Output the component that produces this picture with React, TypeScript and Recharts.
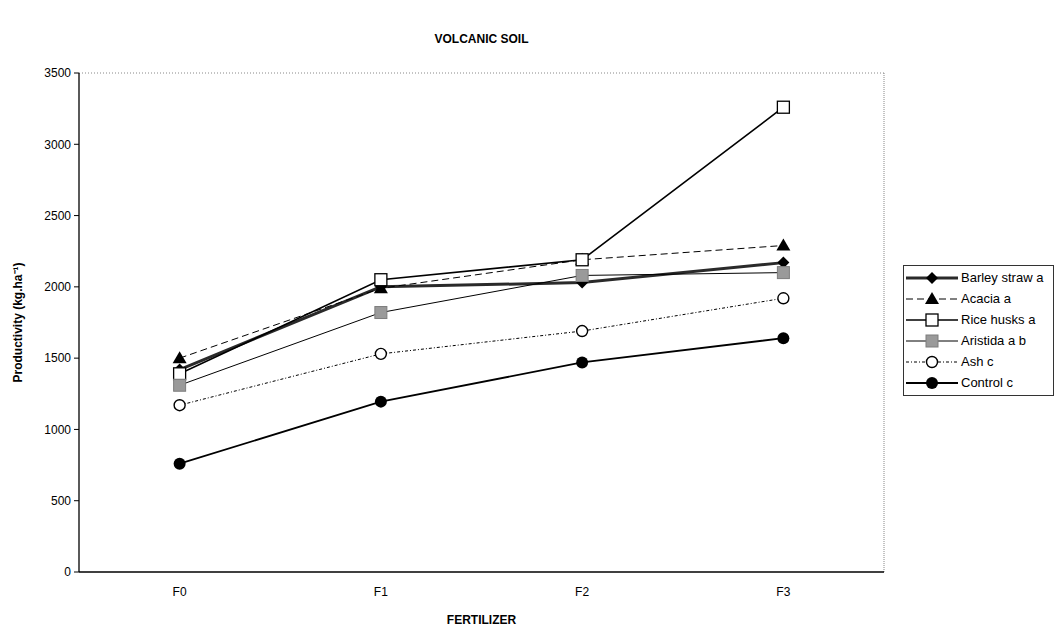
import React from "react";
import {
  LineChart,
  Line,
  XAxis,
  YAxis,
  ReferenceLine,
  Label,
} from "recharts";

const categories = ["F0", "F1", "F2", "F3"];
const barleyStraw = [1420, 2000, 2030, 2170];
const acacia = [1500, 1990, 2190, 2290];
const riceHusks = [1390, 2050, 2190, 3260];
const aristida = [1310, 1820, 2080, 2100];
const ash = [1170, 1530, 1690, 1920];
const control = [760, 1195, 1470, 1640];
const yTicks = [0, 500, 1000, 1500, 2000, 2500, 3000, 3500];
const boundaryTicks = [0.5, 1.5, 2.5, 3.5];

const data = categories.map((label, i) => ({
  x: i,
  label,
  barley: barleyStraw[i],
  acacia: acacia[i],
  rice: riceHusks[i],
  aristida: aristida[i],
  ash: ash[i],
  control: control[i],
}));

const FONT = "'Liberation Sans', Arial, sans-serif";

type MarkerKind = "diamond" | "triangle" | "square" | "graySquare" | "openCircle" | "circle";

const Marker = ({ kind, cx, cy }: { kind: MarkerKind; cx: number; cy: number }) => {
  switch (kind) {
    case "diamond":
      return <path d={`M${cx},${cy - 6} L${cx + 6},${cy} L${cx},${cy + 6} L${cx - 6},${cy} Z`} fill="#000" />;
    case "triangle":
      return <path d={`M${cx},${cy - 7} L${cx + 7},${cy + 5} L${cx - 7},${cy + 5} Z`} fill="#000" />;
    case "square":
      return <rect x={cx - 6} y={cy - 6} width={12} height={12} fill="#fff" stroke="#000" strokeWidth={1.3} />;
    case "graySquare":
      return <rect x={cx - 6} y={cy - 6} width={12} height={12} fill="#9a9a9a" stroke="#7d7d7d" strokeWidth={1} />;
    case "openCircle":
      return <circle cx={cx} cy={cy} r={5.5} fill="#fff" stroke="#000" strokeWidth={1.4} />;
    case "circle":
      return <circle cx={cx} cy={cy} r={6} fill="#000" />;
  }
  return null;
};

const dot = (kind: MarkerKind) => (props: any) => (
  <Marker key={`${kind}-${props.index}`} kind={kind} cx={props.cx} cy={props.cy} />
);

const series = [
  { key: "barley", name: "Barley straw a", stroke: "#2a2a2a", width: 3, dash: undefined, marker: "diamond" as MarkerKind },
  { key: "acacia", name: "Acacia a", stroke: "#000", width: 1, dash: "7 4", marker: "triangle" as MarkerKind },
  { key: "rice", name: "Rice husks a", stroke: "#000", width: 1.6, dash: undefined, marker: "square" as MarkerKind },
  { key: "aristida", name: "Aristida a b", stroke: "#000", width: 1, dash: undefined, marker: "graySquare" as MarkerKind },
  { key: "ash", name: "Ash c", stroke: "#000", width: 1, dash: "3 2 1 2", marker: "openCircle" as MarkerKind },
  { key: "control", name: "Control c", stroke: "#000", width: 1.8, dash: undefined, marker: "circle" as MarkerKind },
];

const EmptyTick = () => <g />;

const LegendBox = () => (
  <div
    style={{
      position: "absolute",
      left: 903,
      top: 265,
      width: 151,
      height: 131,
      border: "1px solid #333",
      background: "#fff",
      boxSizing: "border-box",
      paddingTop: 1,
    }}
  >
    {series.map((s) => (
      <div key={s.key} style={{ display: "flex", alignItems: "center", height: 21 }}>
        <svg width={56} height={16} style={{ flexShrink: 0 }}>
          <line x1={2} x2={54} y1={8} y2={8} stroke={s.stroke} strokeWidth={s.width} strokeDasharray={s.dash} />
          <Marker kind={s.marker} cx={28} cy={8} />
        </svg>
        <span style={{ fontFamily: FONT, fontSize: 13, color: "#000", marginLeft: 1, whiteSpace: "nowrap" }}>
          {s.name}
        </span>
      </div>
    ))}
  </div>
);

export default function App() {
  return (
    <div style={{ position: "absolute", left: 0, top: 0, width: 1056, height: 626, background: "#fff" }}>
      <div
        style={{
          position: "absolute",
          left: 79,
          width: 805,
          top: 32,
          textAlign: "center",
          fontFamily: FONT,
          fontWeight: "bold",
          fontSize: 12,
        }}
      >
        VOLCANIC SOIL
      </div>
      <LineChart
        width={1056}
        height={626}
        data={data}
        margin={{ top: 73, right: 172, bottom: 0, left: 0 }}
        style={{ fontFamily: FONT }}
      >
        <XAxis
          xAxisId="bounds"
          dataKey="x"
          type="number"
          domain={[-0.5, 3.5]}
          ticks={boundaryTicks}
          tick={EmptyTick}
          tickSize={6}
          tickLine={{ stroke: "#000" }}
          axisLine={false}
          height={0}
          allowDataOverflow
        />
        <XAxis
          dataKey="x"
          type="number"
          domain={[-0.5, 3.5]}
          ticks={[0, 1, 2, 3]}
          tickFormatter={(v: number) => categories[v]}
          tickLine={false}
          tickSize={6}
          tickMargin={9}
          axisLine={{ stroke: "#000", strokeWidth: 1.3 }}
          tick={{ fill: "#000", fontSize: 12 }}
          height={54}
          allowDataOverflow
        >
          <Label
            value="FERTILIZER"
            position="insideBottom"
            offset={2}
            style={{ fontWeight: "bold", fontSize: 12, fill: "#000" }}
          />
        </XAxis>
        <YAxis
          domain={[0, 3500]}
          ticks={yTicks}
          width={79}
          tickSize={5}
          tickMargin={3}
          tickLine={{ stroke: "#000" }}
          axisLine={{ stroke: "#000", strokeWidth: 1.3 }}
          tick={{ fill: "#000", fontSize: 12 }}
        >
          <Label
            value="Productivity (kg.ha⁻¹)"
            angle={-90}
            position="insideLeft"
            offset={18}
            style={{ fontWeight: "bold", fontSize: 12, fill: "#000", textAnchor: "middle" }}
          />
        </YAxis>
        <ReferenceLine y={3500} stroke="#888" strokeDasharray="1 2" />
        <ReferenceLine x={3.5} stroke="#888" strokeDasharray="1 1" />
        {series.map((s) => (
          <Line
            key={s.key}
            dataKey={s.key}
            name={s.name}
            type="linear"
            stroke={s.stroke}
            strokeWidth={s.width}
            strokeDasharray={s.dash}
            dot={dot(s.marker)}
            activeDot={false}
            isAnimationActive={false}
          />
        ))}
      </LineChart>
      <LegendBox />
    </div>
  );
}
